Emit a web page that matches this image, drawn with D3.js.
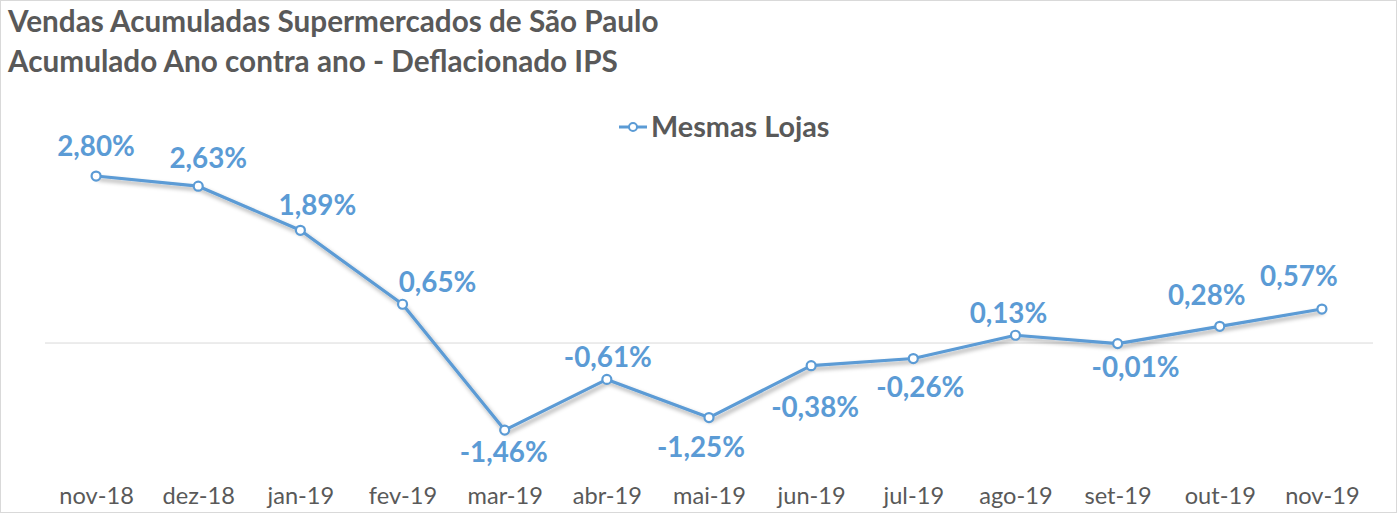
<!DOCTYPE html>
<html>
<head>
<meta charset="utf-8">
<script src="https://cdn.jsdelivr.net/npm/d3@7"></script>
<style>
  html, body { margin: 0; padding: 0; background: #fff; }
  text { font-family: Lato, "Open Sans", sans-serif; }
</style>
</head>
<body>
<div id="chart"></div>
<script>
// dados
let months = ["nov-18", "dez-18", "jan-19", "fev-19", "mar-19", "abr-19", "mai-19",
              "jun-19", "jul-19", "ago-19", "set-19", "out-19", "nov-19"]
let mesmasLojas = [2.80, 2.63, 1.89, 0.65, -1.46, -0.61, -1.25, -0.38, -0.26, 0.13, -0.01, 0.28, 0.57]
let titleLines = ["Vendas Acumuladas Supermercados de São Paulo", "Acumulado Ano contra ano - Deflacionado IPS"]
let seriesName = "Mesmas Lojas"

// label nudges (as placed by hand in the original)
let labelDx = [0, 10, 17, 35, -1, 1, -8, 4, 7, -7, 18, -13, -23]
let labelDy = [-20, -18, -15, -12, 32, -12, 39, 51, 38, -12, 33, -21, -23]

let width = 1399;
let height = 515;
let blue = "#5B9BD5";
let grey = "#595959";

let svg = d3.select("#chart").append("svg")
    .attr("width", width)
    .attr("height", height);

// frame
svg.append("rect")
    .attr("x", 0.5).attr("y", 0.5)
    .attr("width", width - 3).attr("height", height - 3)
    .attr("fill", "white")
    .attr("stroke", "#d9d9d9");

// shadow for line
let defs = svg.append("defs");
defs.append("filter")
    .attr("id", "shadow")
    .attr("x", "-10%").attr("y", "-10%").attr("width", "120%").attr("height", "130%")
    .append("feDropShadow")
    .attr("dx", 2).attr("dy", 3)
    .attr("stdDeviation", 2)
    .attr("flood-color", "#000")
    .attr("flood-opacity", 0.35);

// scales
let x = d3.scalePoint()
    .domain(months)
    .range([45, 1373])
    .padding(0.5);

let y = d3.scaleLinear()
    .domain([-2, 3])
    .range([462.3, 164.1]);

// title
svg.append("g")
    .selectAll("text")
    .data(titleLines)
    .join("text")
    .attr("x", 8)
    .attr("y", (d, i) => 32 + i * 40)
    .attr("fill", grey)
    .attr("font-size", 29.7)
    .attr("font-weight", "bold")
    .text(d => d);

// legend
let legend = svg.append("g").attr("transform", "translate(619, 127)");
legend.append("line")
    .attr("x1", 0).attr("x2", 28)
    .attr("stroke", blue).attr("stroke-width", 3);
legend.append("circle")
    .attr("cx", 14).attr("r", 4)
    .attr("fill", "white").attr("stroke", blue).attr("stroke-width", 2);
legend.append("text")
    .attr("x", 32).attr("y", 9.5)
    .attr("fill", grey)
    .attr("font-size", 28.8)
    .attr("font-weight", "bold")
    .text(seriesName);

// zero line
svg.append("line")
    .attr("x1", 45).attr("x2", 1373)
    .attr("y1", y(0)).attr("y2", y(0))
    .attr("stroke", "#d9d9d9")
    .attr("stroke-width", 1);

// x axis labels
let xAxis = svg.append("g")
    .attr("transform", "translate(0, 504)")
    .call(d3.axisBottom(x).tickSize(0).tickPadding(0));
xAxis.select(".domain").remove();
xAxis.selectAll("text")
    .attr("dy", 0)
    .attr("fill", grey)
    .attr("font-size", 23.6)
    .attr("font-family", "Lato, 'Open Sans', sans-serif");

// line
let line = d3.line()
    .x((d, i) => x(months[i]))
    .y(d => y(d));

svg.append("path")
    .datum(mesmasLojas)
    .attr("d", line)
    .attr("fill", "none")
    .attr("stroke", blue)
    .attr("stroke-width", 3.2)
    .attr("stroke-linejoin", "round")
    .attr("filter", "url(#shadow)");

// markers
svg.append("g")
    .selectAll("circle")
    .data(mesmasLojas)
    .join("circle")
    .attr("cx", (d, i) => x(months[i]))
    .attr("cy", d => y(d))
    .attr("r", 4.5)
    .attr("fill", "white")
    .attr("stroke", blue)
    .attr("stroke-width", 2.2);

// data labels
let fmt = d => d.toFixed(2).replace(".", ",") + "%";
svg.append("g")
    .selectAll("text")
    .data(mesmasLojas)
    .join("text")
    .attr("x", (d, i) => x(months[i]) + labelDx[i])
    .attr("y", (d, i) => y(d) + labelDy[i])
    .attr("text-anchor", "middle")
    .attr("fill", blue)
    .attr("font-size", 27.8)
    .attr("font-weight", "bold")
    .text(fmt);
</script>
</body>
</html>
